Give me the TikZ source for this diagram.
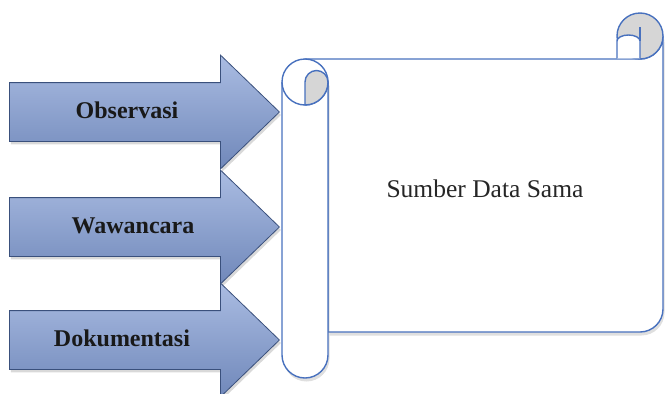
\documentclass[tikz,border=0pt]{standalone}
\usepackage{fontspec}
\setmainfont{Liberation Serif}
\usepackage{xcolor,tikz}
\usetikzlibrary{shapes.arrows,shadows}
\definecolor{arrowtop}{RGB}{170,188,226}
\definecolor{arrowmid}{RGB}{146,168,214}
\definecolor{arrowbot}{RGB}{112,136,186}
\definecolor{arrowedge}{RGB}{58,80,124}
\definecolor{scrollblue}{RGB}{72,113,190}
\definecolor{curlgrey}{RGB}{214,214,214}

\begin{document}
\begin{tikzpicture}[x=1pt,y=1pt,
blkarrow/.style={single arrow,draw=arrowedge,line width=0.8pt,top color=arrowtop,middle color=arrowmid,bottom color=arrowbot,
  minimum height=270pt,inner xsep=0pt,inner ysep=29pt,single arrow head extend=27.5pt,single arrow tip angle=88,anchor=tip,
  drop shadow={opacity=0.3,shadow xshift=1.5pt,shadow yshift=-3pt}},
arrowlbl/.style={font=\fontsize{24}{28}\selectfont\bfseries,text=black!90,inner sep=0pt,anchor=base},
scrl/.style={draw=scrollblue,line width=1.4pt,line join=round},
curl/.style={scrl,fill=curlgrey},
shd/.style={drop shadow={opacity=0.25,shadow xshift=1.5pt,shadow yshift=-3.5pt}}]
\useasboundingbox (0,0) rectangle (665,-394);
% three input arrows
\foreach \nm/\yc/\xc/\txt in {obs/112/127/Observasi,waw/227/133/Wawancara,dok/340/122/Dokumentasi}{
  \node[blkarrow] (\nm) at (280,-\yc) {};
  \node[arrowlbl] (\nm lbl) at (\xc,-\yc-6) {\txt};
}
% scroll body
\draw[scrl,fill=white,shd] (305,-59) -- (640,-59) arc[start angle=270,end angle=360,radius=23pt]
  -- (663,-309) arc[start angle=0,end angle=-90,radius=23pt] -- (328,-332) -- (328,-82) -- cycle;
% right curl
\draw[curl] (640,-36) circle[radius=23pt];
\draw[scrl,fill=white] (617,-58.3) -- (617,-41) arc[start angle=180,end angle=0,x radius=11.5pt,y radius=6pt] -- (640,-58.3);
\draw[scrl] (640,-27) -- (640,-41);
% left roll
\draw[scrl,fill=white,shd] (282,-82) -- (282,-355) arc[start angle=180,end angle=360,radius=23pt] -- (328,-82);
\draw[scrl,fill=white] (305,-82) circle[radius=23pt];
\draw[curl] (305,-105) arc[start angle=270,end angle=360,radius=23pt] arc[start angle=0,end angle=180,radius=11.5pt] -- cycle;
\node[inner sep=0pt,anchor=base,text=black!85,font=\fontsize{25.5}{30}\selectfont] (src) at (485,-197) {Sumber Data Sama};
\end{tikzpicture}
\end{document}
